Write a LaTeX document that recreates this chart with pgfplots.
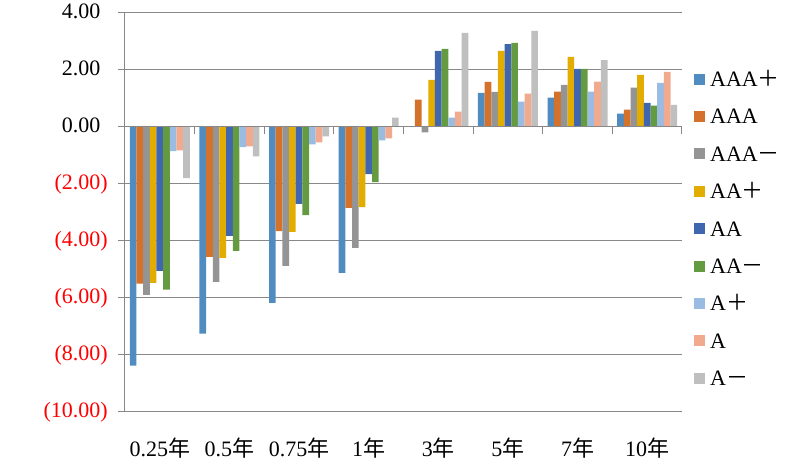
\documentclass[border=0pt]{standalone}
\usepackage{pgfplots}
\pgfplotsset{compat=1.18}
\usepackage{pgfplotstable}
\usepackage{fontspec}
\setmainfont{Liberation Serif}
\newfontfamily\cjk{Noto Sans CJK SC}
\definecolor{c1}{HTML}{508CC0}
\definecolor{c2}{HTML}{D4722C}
\definecolor{c3}{HTML}{949494}
\definecolor{c4}{HTML}{E2AC00}
\definecolor{c5}{HTML}{3F66AE}
\definecolor{c6}{HTML}{649B40}
\definecolor{c7}{HTML}{9BBCE2}
\definecolor{c8}{HTML}{F2AA8E}
\definecolor{c9}{HTML}{BFBFBF}
\definecolor{axgray}{HTML}{888888}
\pgfplotstableread{
x  s1     s2     s3     s4     s5     s6     s7     s8     s9
0  -8.37  -5.50  -5.89  -5.47  -5.05  -5.71  -0.85  -0.82  -1.79
1  -7.25  -4.56  -5.43  -4.59  -3.82  -4.35  -0.71  -0.68  -1.03
2  -6.17  -3.65  -4.87  -3.68  -2.70  -3.09  -0.61  -0.54  -0.33
3  -5.12  -2.84  -4.24  -2.81  -1.65  -1.93  -0.47  -0.40   0.33
4   0.00   0.96  -0.19   1.65   2.67   2.74   0.33   0.54   3.30
5   1.20   1.58   1.23   2.67   2.91   2.95   0.89   1.17   3.37
6   1.03   1.24   1.48   2.46   2.04   2.04   1.24   1.59   2.35
7   0.47   0.61   1.38   1.83   0.85   0.75   1.55   1.93   0.78
}\datatable
\begin{document}
\fontsize{22}{26}\selectfont
\begin{tikzpicture}
\useasboundingbox (0,0) rectangle (804pt,460pt);
\begin{axis}[
  at={(125pt,48pt)}, anchor=south west,
  scale only axis, width=557pt, height=399pt,
  xmin=-0.5, xmax=7.5, ymin=-10, ymax=4,
  ybar=0pt, bar width=0.0958,
  axis y line*=left, axis x line*=bottom,
  axis line style={axgray, line width=1pt},
  x axis line style={draw=none},
  xtick=data,
  xticklabels={0.25{\cjk 年},0.5{\cjk 年},0.75{\cjk 年},1{\cjk 年},3{\cjk 年},5{\cjk 年},7{\cjk 年},10{\cjk 年}},
  major x tick style={draw=none},
  xticklabel style={anchor=base, yshift=-38pt, inner sep=0pt, text depth=0pt},
  ytick={-10,-8,-6,-4,-2,0,2,4},
  yticklabels={{\color{red}(10.00)},{\color{red}(8.00)},{\color{red}(6.00)},{\color{red}(4.00)},{\color{red}(2.00)},{0.00\phantom{)}},{2.00\phantom{)}},{4.00\phantom{)}}},
  yticklabel style={anchor=east, inner sep=0pt, xshift=-10pt},
  tick align=outside, major tick length=7pt,
  major y tick style={axgray, line width=1pt},
  ymajorgrids, major grid style={axgray, line width=1pt},
  every axis plot/.append style={draw=none},
  legend cell align=left,
  legend style={draw=none, fill=none, inner sep=0pt,
    at={(axis description cs:1.0215,0.8529)}, anchor=north west,
    row sep=22.8pt,
    nodes={inner sep=0pt, text height=14.6pt, text depth=0pt},
    /tikz/every odd column/.append style={column sep=5pt}},
  legend image code/.code={\fill[#1] (0pt,-5.5pt) rectangle (11pt,5.5pt);},
]
\addplot[fill=c1] table[x=x,y=s1]{\datatable};
\addplot[fill=c2] table[x=x,y=s2]{\datatable};
\addplot[fill=c3] table[x=x,y=s3]{\datatable};
\addplot[fill=c4] table[x=x,y=s4]{\datatable};
\addplot[fill=c5] table[x=x,y=s5]{\datatable};
\addplot[fill=c6] table[x=x,y=s6]{\datatable};
\addplot[fill=c7] table[x=x,y=s7]{\datatable};
\addplot[fill=c8] table[x=x,y=s8]{\datatable};
\addplot[fill=c9] table[x=x,y=s9]{\datatable};
\legend{AAA{\cjk ＋},AAA,AAA{\cjk －},AA{\cjk ＋},AA,AA{\cjk －},A{\cjk ＋},A,A{\cjk －}}
\draw[axgray, line width=1pt] (axis cs:-0.5,0) -- (axis cs:7.5,0);
\draw[axgray, line width=1pt] (axis cs:-0.5,0) -- ([yshift=-7pt]axis cs:-0.5,0);
\draw[axgray, line width=1pt] (axis cs:0.5,0) -- ([yshift=-7pt]axis cs:0.5,0);
\draw[axgray, line width=1pt] (axis cs:1.5,0) -- ([yshift=-7pt]axis cs:1.5,0);
\draw[axgray, line width=1pt] (axis cs:2.5,0) -- ([yshift=-7pt]axis cs:2.5,0);
\draw[axgray, line width=1pt] (axis cs:3.5,0) -- ([yshift=-7pt]axis cs:3.5,0);
\draw[axgray, line width=1pt] (axis cs:4.5,0) -- ([yshift=-7pt]axis cs:4.5,0);
\draw[axgray, line width=1pt] (axis cs:5.5,0) -- ([yshift=-7pt]axis cs:5.5,0);
\draw[axgray, line width=1pt] (axis cs:6.5,0) -- ([yshift=-7pt]axis cs:6.5,0);
\draw[axgray, line width=1pt] (axis cs:7.5,0) -- ([yshift=-7pt]axis cs:7.5,0);
\end{axis}
\end{tikzpicture}
\end{document}
